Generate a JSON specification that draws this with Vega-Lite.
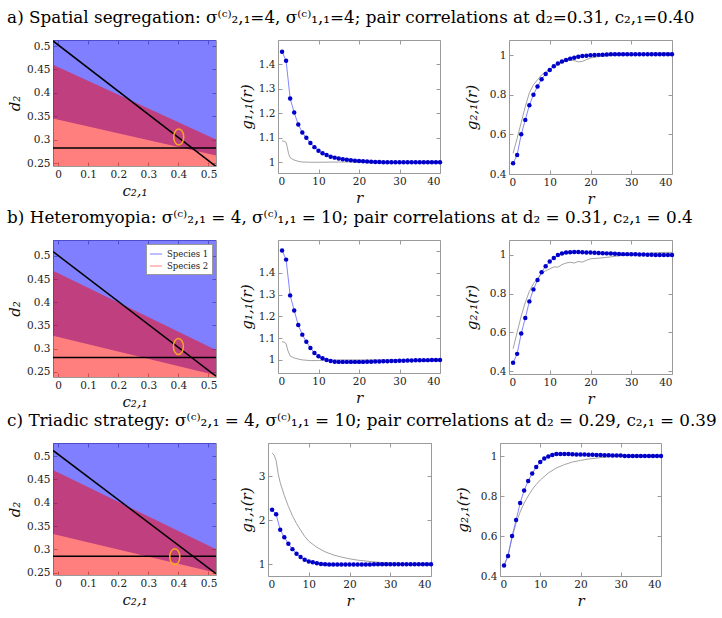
{
 "$schema": "https://vega.github.io/schema/vega-lite/v6.json",
 "padding": {"left": 7, "top": 10, "right": 5, "bottom": 2},
 "background": "white",
 "config": {
  "view": {"stroke": "#9a9a9a", "strokeWidth": 1},
  "axis": {"domain": false, "grid": false, "ticks": true, "tickSize": -4, "tickColor": "#9a9a9a", "labelFont": "DejaVu Serif", "labelFontSize": 10.5, "labelColor": "#222", "labelPadding": 7, "titleFont": "DejaVu Serif", "titleFontStyle": "italic", "titleFontWeight": "normal", "titleFontSize": 15, "titleColor": "#111", "titlePadding": 4},
  "title": {"font": "DejaVu Serif", "fontSize": 16.8, "fontWeight": "normal", "anchor": "start", "color": "#000", "offset": 12}
 },
 "datasets": {
  "regA": [{"c": -0.017, "lo": 0.345, "hi": 0.46, "diag": 0.511}, {"c": 0.525, "lo": 0.266, "hi": 0.30, "diag": 0.2426}],
  "regB": [{"c": -0.017, "lo": 0.328, "hi": 0.468, "diag": 0.509}, {"c": 0.525, "lo": 0.243, "hi": 0.297, "diag": 0.241}],
  "regC": [{"c": -0.017, "lo": 0.333, "hi": 0.47, "diag": 0.512}, {"c": 0.525, "lo": 0.25, "hi": 0.30, "diag": 0.248}],
  "markA": [{"c": 0.401, "d": 0.3056, "h": 0.282}],
  "markB": [{"c": 0.40, "d": 0.3046, "h": 0.281}],
  "markC": [{"c": 0.388, "d": 0.284, "h": 0.285}],
  "g11a": [{"r":1,"g":1.452},{"r":2,"g":1.415},{"r":3,"g":1.26},{"r":4,"g":1.203},{"r":5,"g":1.154},{"r":6,"g":1.121},{"r":7,"g":1.099},{"r":8,"g":1.078},{"r":9,"g":1.061},{"r":10,"g":1.046},{"r":11,"g":1.036},{"r":12,"g":1.029},{"r":13,"g":1.022},{"r":14,"g":1.018},{"r":15,"g":1.014},{"r":16,"g":1.011},{"r":17,"g":1.009},{"r":18,"g":1.007},{"r":19,"g":1.005},{"r":20,"g":1.004},{"r":21,"g":1.003},{"r":22,"g":1.002},{"r":23,"g":1.001},{"r":24,"g":1.0},{"r":25,"g":1.0},{"r":26,"g":0.999},{"r":27,"g":0.999},{"r":28,"g":0.999},{"r":29,"g":0.999},{"r":30,"g":0.999},{"r":31,"g":0.999},{"r":32,"g":0.999},{"r":33,"g":0.999},{"r":34,"g":0.999},{"r":35,"g":0.999},{"r":36,"g":0.999},{"r":37,"g":0.999},{"r":38,"g":0.999},{"r":39,"g":0.999},{"r":40,"g":0.999}],
  "g11a_s": [{"r":1,"g":1.087},{"r":1.5,"g":1.085},{"r":2,"g":1.08},{"r":2.3,"g":1.06},{"r":2.6,"g":1.035},{"r":3,"g":1.018},{"r":3.5,"g":1.012},{"r":4,"g":1.008},{"r":5,"g":1.003},{"r":6,"g":1.0},{"r":8,"g":0.999},{"r":10,"g":0.999},{"r":15,"g":1.0},{"r":20,"g":1.0},{"r":25,"g":1.0},{"r":30,"g":1.0},{"r":35,"g":1.0},{"r":40,"g":1.0}],
  "g21a": [{"r":1,"g":0.454},{"r":2,"g":0.496},{"r":3,"g":0.60},{"r":4,"g":0.673},{"r":5,"g":0.747},{"r":6,"g":0.80},{"r":7,"g":0.841},{"r":8,"g":0.878},{"r":9,"g":0.905},{"r":10,"g":0.925},{"r":11,"g":0.944},{"r":12,"g":0.957},{"r":13,"g":0.967},{"r":14,"g":0.975},{"r":15,"g":0.982},{"r":16,"g":0.987},{"r":17,"g":0.992},{"r":18,"g":0.995},{"r":19,"g":0.997},{"r":20,"g":0.999},{"r":21,"g":1.0},{"r":22,"g":1.001},{"r":23,"g":1.002},{"r":24,"g":1.003},{"r":25,"g":1.004},{"r":26,"g":1.004},{"r":27,"g":1.004},{"r":28,"g":1.004},{"r":29,"g":1.004},{"r":30,"g":1.004},{"r":31,"g":1.004},{"r":32,"g":1.004},{"r":33,"g":1.004},{"r":34,"g":1.004},{"r":35,"g":1.004},{"r":36,"g":1.004},{"r":37,"g":1.004},{"r":38,"g":1.004},{"r":39,"g":1.004},{"r":40,"g":1.004}],
  "g21a_s": [{"r":1,"g":0.504},{"r":2,"g":0.58},{"r":3,"g":0.66},{"r":4,"g":0.74},{"r":5,"g":0.81},{"r":6,"g":0.85},{"r":7,"g":0.875},{"r":8,"g":0.9},{"r":9,"g":0.915},{"r":10,"g":0.93},{"r":11,"g":0.942},{"r":12,"g":0.953},{"r":13,"g":0.962},{"r":14,"g":0.97},{"r":15,"g":0.975},{"r":16,"g":0.972},{"r":17,"g":0.966},{"r":18,"g":0.968},{"r":19,"g":0.977},{"r":20,"g":0.985},{"r":22,"g":0.992},{"r":25,"g":0.998},{"r":28,"g":1.0},{"r":30,"g":1.002},{"r":33,"g":1.005},{"r":35,"g":1.01},{"r":38,"g":1.01},{"r":40,"g":1.01}],
  "g11b": [{"r":1,"g":1.502},{"r":2,"g":1.46},{"r":3,"g":1.296},{"r":4,"g":1.227},{"r":5,"g":1.16},{"r":6,"g":1.116},{"r":7,"g":1.083},{"r":8,"g":1.055},{"r":9,"g":1.032},{"r":10,"g":1.017},{"r":11,"g":1.008},{"r":12,"g":1.0},{"r":13,"g":0.995},{"r":14,"g":0.992},{"r":15,"g":0.991},{"r":16,"g":0.991},{"r":17,"g":0.991},{"r":18,"g":0.991},{"r":19,"g":0.991},{"r":20,"g":0.991},{"r":21,"g":0.991},{"r":22,"g":0.992},{"r":23,"g":0.992},{"r":24,"g":0.993},{"r":25,"g":0.993},{"r":26,"g":0.994},{"r":27,"g":0.994},{"r":28,"g":0.995},{"r":29,"g":0.995},{"r":30,"g":0.996},{"r":31,"g":0.996},{"r":32,"g":0.997},{"r":33,"g":0.997},{"r":34,"g":0.998},{"r":35,"g":0.998},{"r":36,"g":0.999},{"r":37,"g":0.999},{"r":38,"g":1.0},{"r":39,"g":1.0},{"r":40,"g":1.0}],
  "g11b_s": [{"r":1,"g":1.083},{"r":1.5,"g":1.082},{"r":2,"g":1.075},{"r":2.4,"g":1.045},{"r":3,"g":1.018},{"r":4,"g":1.009},{"r":5,"g":1.004},{"r":6,"g":1.0},{"r":8,"g":0.997},{"r":10,"g":0.997},{"r":12,"g":0.998},{"r":15,"g":1.0},{"r":20,"g":1.0},{"r":30,"g":1.0},{"r":40,"g":1.0}],
  "g21b": [{"r":1,"g":0.443},{"r":2,"g":0.489},{"r":3,"g":0.594},{"r":4,"g":0.674},{"r":5,"g":0.76},{"r":6,"g":0.822},{"r":7,"g":0.87},{"r":8,"g":0.911},{"r":9,"g":0.942},{"r":10,"g":0.966},{"r":11,"g":0.984},{"r":12,"g":1.0},{"r":13,"g":1.007},{"r":14,"g":1.012},{"r":15,"g":1.014},{"r":16,"g":1.015},{"r":17,"g":1.015},{"r":18,"g":1.014},{"r":19,"g":1.013},{"r":20,"g":1.012},{"r":21,"g":1.011},{"r":22,"g":1.01},{"r":23,"g":1.009},{"r":24,"g":1.008},{"r":25,"g":1.007},{"r":26,"g":1.006},{"r":27,"g":1.005},{"r":28,"g":1.004},{"r":29,"g":1.004},{"r":30,"g":1.003},{"r":31,"g":1.003},{"r":32,"g":1.002},{"r":33,"g":1.002},{"r":34,"g":1.001},{"r":35,"g":1.001},{"r":36,"g":1.0},{"r":37,"g":1.0},{"r":38,"g":1.0},{"r":39,"g":1.0},{"r":40,"g":1.0}],
  "g21b_s": [{"r":1,"g":0.515},{"r":2,"g":0.60},{"r":3,"g":0.685},{"r":4,"g":0.755},{"r":5,"g":0.812},{"r":6,"g":0.852},{"r":7,"g":0.878},{"r":8,"g":0.905},{"r":9,"g":0.918},{"r":10,"g":0.928},{"r":11,"g":0.938},{"r":12,"g":0.937},{"r":13,"g":0.95},{"r":14,"g":0.958},{"r":15,"g":0.962},{"r":16,"g":0.958},{"r":17,"g":0.966},{"r":18,"g":0.963},{"r":19,"g":0.972},{"r":20,"g":0.98},{"r":22,"g":0.983},{"r":25,"g":0.99},{"r":28,"g":0.998},{"r":30,"g":1.005},{"r":33,"g":1.006},{"r":35,"g":1.01},{"r":38,"g":1.013},{"r":40,"g":1.013}],
  "g11c": [{"r":1,"g":2.234},{"r":2,"g":2.13},{"r":3,"g":1.78},{"r":4,"g":1.61},{"r":5,"g":1.46},{"r":6,"g":1.34},{"r":7,"g":1.235},{"r":8,"g":1.16},{"r":9,"g":1.1},{"r":10,"g":1.06},{"r":11,"g":1.04},{"r":12,"g":1.02},{"r":13,"g":1.005},{"r":14,"g":0.995},{"r":15,"g":0.99},{"r":16,"g":0.99},{"r":17,"g":0.99},{"r":18,"g":0.99},{"r":19,"g":0.99},{"r":20,"g":0.99},{"r":21,"g":0.99},{"r":22,"g":0.99},{"r":23,"g":0.99},{"r":24,"g":0.99},{"r":25,"g":0.99},{"r":26,"g":0.995},{"r":27,"g":0.995},{"r":28,"g":0.995},{"r":29,"g":0.995},{"r":30,"g":0.995},{"r":31,"g":0.995},{"r":32,"g":0.995},{"r":33,"g":0.995},{"r":34,"g":0.995},{"r":35,"g":0.995},{"r":36,"g":0.995},{"r":37,"g":0.995},{"r":38,"g":0.995},{"r":39,"g":0.995},{"r":40,"g":0.995}],
  "g11c_s": [{"r":1,"g":3.52},{"r":1.5,"g":3.48},{"r":2,"g":3.35},{"r":2.5,"g":3.05},{"r":3,"g":2.85},{"r":4,"g":2.56},{"r":5,"g":2.31},{"r":6,"g":2.1},{"r":7,"g":1.92},{"r":8,"g":1.77},{"r":9,"g":1.63},{"r":10,"g":1.52},{"r":12,"g":1.38},{"r":14,"g":1.28},{"r":16,"g":1.21},{"r":18,"g":1.16},{"r":20,"g":1.12},{"r":22,"g":1.09},{"r":25,"g":1.06},{"r":28,"g":1.035},{"r":30,"g":1.025},{"r":33,"g":1.012},{"r":35,"g":1.005},{"r":38,"g":1.0},{"r":40,"g":1.0}],
  "g21c": [{"r":1,"g":0.453},{"r":2,"g":0.50},{"r":3,"g":0.60},{"r":4,"g":0.68},{"r":5,"g":0.765},{"r":6,"g":0.828},{"r":7,"g":0.875},{"r":8,"g":0.913},{"r":9,"g":0.945},{"r":10,"g":0.97},{"r":11,"g":0.988},{"r":12,"g":0.998},{"r":13,"g":1.005},{"r":14,"g":1.01},{"r":15,"g":1.01},{"r":16,"g":1.01},{"r":17,"g":1.01},{"r":18,"g":1.009},{"r":19,"g":1.008},{"r":20,"g":1.008},{"r":21,"g":1.007},{"r":22,"g":1.006},{"r":23,"g":1.006},{"r":24,"g":1.005},{"r":25,"g":1.005},{"r":26,"g":1.004},{"r":27,"g":1.004},{"r":28,"g":1.003},{"r":29,"g":1.003},{"r":30,"g":1.002},{"r":31,"g":1.0},{"r":32,"g":1.0},{"r":33,"g":1.0},{"r":34,"g":1.0},{"r":35,"g":1.0},{"r":36,"g":1.0},{"r":37,"g":1.0},{"r":38,"g":1.0},{"r":39,"g":1.0},{"r":40,"g":1.0}],
  "g21c_s": [{"r":1,"g":0.45},{"r":2,"g":0.505},{"r":3,"g":0.59},{"r":4,"g":0.665},{"r":5,"g":0.72},{"r":6,"g":0.765},{"r":7,"g":0.80},{"r":8,"g":0.832},{"r":9,"g":0.858},{"r":10,"g":0.88},{"r":12,"g":0.915},{"r":14,"g":0.94},{"r":16,"g":0.957},{"r":18,"g":0.97},{"r":20,"g":0.978},{"r":22,"g":0.985},{"r":25,"g":0.992},{"r":28,"g":0.997},{"r":30,"g":1.0},{"r":35,"g":1.0},{"r":40,"g":1.0}]
 },
 "spacing": 3,
 "resolve": {"scale": {"color": "independent"}, "legend": {"color": "independent"}},
 "vconcat": [
  {
   "title": {"text": "a) Spatial segregation: σ⁽ᶜ⁾₂,₁=4, σ⁽ᶜ⁾₁,₁=4; pair correlations at d₂=0.31, c₂,₁=0.40"},
   "spacing": 20,
   "hconcat": [
    {
     "width": 163, "height": 126, "data": {"name": "regA"},
     "layer": [
      {"mark": {"type": "area", "fill": "#0000ff", "fillOpacity": 0.5, "clip": true},
       "encoding": {"x": {"field": "c", "type": "quantitative", "scale": {"domain": [-0.017, 0.525], "nice": false, "zero": false}, "axis": {"values": [0, 0.1, 0.2, 0.3, 0.4, 0.5], "format": "~g", "title": "c₂,₁"}},
        "y": {"field": "lo", "type": "quantitative", "scale": {"domain": [0.2436, 0.513], "nice": false, "zero": false}, "axis": {"values": [0.25, 0.3, 0.35, 0.4, 0.45, 0.5], "format": "~g", "title": "d₂"}},
        "y2": {"datum": 0.6}}},
      {"mark": {"type": "area", "fill": "#ff0000", "fillOpacity": 0.5, "clip": true},
       "encoding": {"x": {"field": "c", "type": "quantitative", "axis": {"orient": "top", "values": [0, 0.1, 0.2, 0.3, 0.4, 0.5], "labels": false, "title": null}},
        "y": {"field": "hi", "type": "quantitative", "axis": {"orient": "right", "values": [0.25, 0.3, 0.35, 0.4, 0.45, 0.5], "labels": false, "title": null}},
        "y2": {"datum": 0.1}}},
      {"mark": {"type": "line", "color": "#000", "strokeWidth": 1.5, "clip": true},
       "encoding": {"x": {"field": "c", "type": "quantitative", "axis": null}, "y": {"field": "diag", "type": "quantitative", "axis": null}}},
      {"data": {"name": "markA"}, "mark": {"type": "rule", "color": "#000", "strokeWidth": 1.5},
       "encoding": {"y": {"field": "h", "type": "quantitative", "axis": null}}},
      {"data": {"name": "markA"}, "mark": {"type": "point", "shape": "M0,-1A0.625,1,0,1,1,0,1A0.625,1,0,1,1,0,-1Z", "size": 256, "filled": false, "stroke": "#f5a623", "strokeWidth": 1.5, "opacity": 1},
       "encoding": {"x": {"field": "c", "type": "quantitative", "axis": null}, "y": {"field": "d", "type": "quantitative", "axis": null}}}
     ],
     "resolve": {"axis": {"x": "independent", "y": "independent"}}
    },
    {
     "width": 162, "height": 133,
     "layer": [
      {"data": {"name": "g11a_s"}, "mark": {"type": "line", "color": "#8a8a8a", "strokeWidth": 0.8, "clip": true},
       "encoding": {"x": {"field": "r", "type": "quantitative", "scale": {"domain": [0, 40], "nice": false}, "axis": {"values": [0, 10, 20, 30, 40], "title": "r"}},
        "y": {"field": "g", "type": "quantitative", "scale": {"domain": [0.955, 1.5], "nice": false, "zero": false}, "axis": {"values": [1, 1.1, 1.2, 1.3, 1.4], "format": "~g", "title": "g₁,₁(r)"}}}},
      {"data": {"name": "g11a"}, "mark": {"type": "line", "color": "#6464ff", "strokeWidth": 0.8, "clip": true},
       "encoding": {"x": {"field": "r", "type": "quantitative", "axis": {"orient": "top", "values": [0, 10, 20, 30, 40], "labels": false, "title": null}},
        "y": {"field": "g", "type": "quantitative", "axis": {"orient": "right", "values": [1, 1.1, 1.2, 1.3, 1.4], "labels": false, "title": null}}}},
      {"data": {"name": "g11a"}, "mark": {"type": "circle", "color": "#0000c8", "size": 20, "opacity": 1},
       "encoding": {"x": {"field": "r", "type": "quantitative", "axis": null}, "y": {"field": "g", "type": "quantitative", "axis": null}}}
     ],
     "resolve": {"axis": {"x": "independent", "y": "independent"}}
    },
    {
     "width": 163, "height": 134,
     "layer": [
      {"data": {"name": "g21a_s"}, "mark": {"type": "line", "color": "#8a8a8a", "strokeWidth": 0.8, "clip": true},
       "encoding": {"x": {"field": "r", "type": "quantitative", "scale": {"domain": [0, 40], "nice": false}, "axis": {"values": [0, 10, 20, 30, 40], "title": "r"}},
        "y": {"field": "g", "type": "quantitative", "scale": {"domain": [0.4, 1.076], "nice": false, "zero": false}, "axis": {"values": [0.4, 0.6, 0.8, 1], "format": "~g", "title": "g₂,₁(r)", "titlePadding": 10}}}},
      {"data": {"name": "g21a"}, "mark": {"type": "line", "color": "#6464ff", "strokeWidth": 0.8, "clip": true},
       "encoding": {"x": {"field": "r", "type": "quantitative", "axis": {"orient": "top", "values": [0, 10, 20, 30, 40], "labels": false, "title": null}},
        "y": {"field": "g", "type": "quantitative", "axis": {"orient": "right", "values": [0.4, 0.6, 0.8, 1], "labels": false, "title": null}}}},
      {"data": {"name": "g21a"}, "mark": {"type": "circle", "color": "#0000c8", "size": 20, "opacity": 1},
       "encoding": {"x": {"field": "r", "type": "quantitative", "axis": null}, "y": {"field": "g", "type": "quantitative", "axis": null}}}
     ],
     "resolve": {"axis": {"x": "independent", "y": "independent"}}
    }
   ]
  },
  {
   "title": {"text": "b) Heteromyopia: σ⁽ᶜ⁾₂,₁ = 4, σ⁽ᶜ⁾₁,₁ = 10; pair correlations at d₂ = 0.31, c₂,₁ = 0.4"},
   "spacing": 20,
   "resolve": {"scale": {"color": "independent"}, "legend": {"color": "independent"}},
   "hconcat": [
    {
     "width": 163, "height": 137, "data": {"name": "regB"},
     "layer": [
      {"mark": {"type": "area", "fillOpacity": 0.5, "clip": true},
       "encoding": {"x": {"field": "c", "type": "quantitative", "scale": {"domain": [-0.017, 0.525], "nice": false, "zero": false}, "axis": {"values": [0, 0.1, 0.2, 0.3, 0.4, 0.5], "format": "~g", "title": "c₂,₁"}},
        "y": {"field": "lo", "type": "quantitative", "scale": {"domain": [0.239, 0.534], "nice": false, "zero": false}, "axis": {"values": [0.25, 0.3, 0.35, 0.4, 0.45, 0.5], "format": "~g", "title": "d₂"}},
        "y2": {"datum": 0.6},
        "color": {"datum": "Species 1", "type": "nominal", "scale": {"domain": ["Species 1", "Species 2"], "range": ["#0000ff", "#ff0000"]},
         "legend": {"title": null, "orient": "top-right", "offset": 4, "symbolType": "stroke", "symbolSize": 150, "fillColor": "white", "strokeColor": "#9a9a9a", "padding": 3, "rowPadding": 0, "labelFont": "DejaVu Serif", "labelFontSize": 8.5, "labelColor": "#222",
          "encode": {"symbols": {"update": {"stroke": {"signal": "datum.value === 'Species 1' ? '#7f7fff' : '#ff8080'"}, "strokeWidth": {"value": 1}, "fillOpacity": {"value": 0}, "opacity": {"value": 1}}}}}}}},
      {"mark": {"type": "area", "fillOpacity": 0.5, "clip": true},
       "encoding": {"x": {"field": "c", "type": "quantitative", "axis": {"orient": "top", "values": [0, 0.1, 0.2, 0.3, 0.4, 0.5], "labels": false, "title": null}},
        "y": {"field": "hi", "type": "quantitative", "axis": {"orient": "right", "values": [0.25, 0.3, 0.35, 0.4, 0.45, 0.5], "labels": false, "title": null}},
        "y2": {"datum": 0.1},
        "color": {"datum": "Species 2", "type": "nominal"}}},
      {"mark": {"type": "line", "color": "#000", "strokeWidth": 1.5, "clip": true},
       "encoding": {"x": {"field": "c", "type": "quantitative", "axis": null}, "y": {"field": "diag", "type": "quantitative", "axis": null}}},
      {"data": {"name": "markB"}, "mark": {"type": "rule", "color": "#000", "strokeWidth": 1.5},
       "encoding": {"y": {"field": "h", "type": "quantitative", "axis": null}}},
      {"data": {"name": "markB"}, "mark": {"type": "point", "shape": "M0,-1A0.625,1,0,1,1,0,1A0.625,1,0,1,1,0,-1Z", "size": 256, "filled": false, "stroke": "#f5a623", "strokeWidth": 1.5, "opacity": 1},
       "encoding": {"x": {"field": "c", "type": "quantitative", "axis": null}, "y": {"field": "d", "type": "quantitative", "axis": null}}}
     ],
     "resolve": {"axis": {"x": "independent", "y": "independent"}}
    },
    {
     "width": 162, "height": 133,
     "layer": [
      {"data": {"name": "g11b_s"}, "mark": {"type": "line", "color": "#8a8a8a", "strokeWidth": 0.8, "clip": true},
       "encoding": {"x": {"field": "r", "type": "quantitative", "scale": {"domain": [0, 40], "nice": false}, "axis": {"values": [0, 10, 20, 30, 40], "title": "r"}},
        "y": {"field": "g", "type": "quantitative", "scale": {"domain": [0.94, 1.55], "nice": false, "zero": false}, "axis": {"values": [1, 1.1, 1.2, 1.3, 1.4], "format": "~g", "title": "g₁,₁(r)"}}}},
      {"data": {"name": "g11b"}, "mark": {"type": "line", "color": "#6464ff", "strokeWidth": 0.8, "clip": true},
       "encoding": {"x": {"field": "r", "type": "quantitative", "axis": {"orient": "top", "values": [0, 10, 20, 30, 40], "labels": false, "title": null}},
        "y": {"field": "g", "type": "quantitative", "axis": {"orient": "right", "values": [1, 1.1, 1.2, 1.3, 1.4, 1.5], "labels": false, "title": null}}}},
      {"data": {"name": "g11b"}, "mark": {"type": "circle", "color": "#0000c8", "size": 20, "opacity": 1},
       "encoding": {"x": {"field": "r", "type": "quantitative", "axis": null}, "y": {"field": "g", "type": "quantitative", "axis": null}}}
     ],
     "resolve": {"axis": {"x": "independent", "y": "independent"}}
    },
    {
     "width": 163, "height": 134,
     "layer": [
      {"data": {"name": "g21b_s"}, "mark": {"type": "line", "color": "#8a8a8a", "strokeWidth": 0.8, "clip": true},
       "encoding": {"x": {"field": "r", "type": "quantitative", "scale": {"domain": [0, 40], "nice": false}, "axis": {"values": [0, 10, 20, 30, 40], "title": "r"}},
        "y": {"field": "g", "type": "quantitative", "scale": {"domain": [0.385, 1.077], "nice": false, "zero": false}, "axis": {"values": [0.4, 0.6, 0.8, 1], "format": "~g", "title": "g₂,₁(r)", "titlePadding": 10}}}},
      {"data": {"name": "g21b"}, "mark": {"type": "line", "color": "#6464ff", "strokeWidth": 0.8, "clip": true},
       "encoding": {"x": {"field": "r", "type": "quantitative", "axis": {"orient": "top", "values": [0, 10, 20, 30, 40], "labels": false, "title": null}},
        "y": {"field": "g", "type": "quantitative", "axis": {"orient": "right", "values": [0.4, 0.6, 0.8, 1], "labels": false, "title": null}}}},
      {"data": {"name": "g21b"}, "mark": {"type": "circle", "color": "#0000c8", "size": 20, "opacity": 1},
       "encoding": {"x": {"field": "r", "type": "quantitative", "axis": null}, "y": {"field": "g", "type": "quantitative", "axis": null}}}
     ],
     "resolve": {"axis": {"x": "independent", "y": "independent"}}
    }
   ]
  },
  {
   "title": {"text": "c) Triadic strategy: σ⁽ᶜ⁾₂,₁ = 4, σ⁽ᶜ⁾₁,₁ = 10; pair correlations at d₂ = 0.29, c₂,₁ = 0.39"},
   "spacing": 20,
   "hconcat": [
    {
     "width": 163, "height": 132, "data": {"name": "regC"},
     "layer": [
      {"mark": {"type": "area", "fill": "#0000ff", "fillOpacity": 0.5, "clip": true},
       "encoding": {"x": {"field": "c", "type": "quantitative", "scale": {"domain": [-0.017, 0.525], "nice": false, "zero": false}, "axis": {"values": [0, 0.1, 0.2, 0.3, 0.4, 0.5], "format": "~g", "title": "c₂,₁"}},
        "y": {"field": "lo", "type": "quantitative", "scale": {"domain": [0.245, 0.528], "nice": false, "zero": false}, "axis": {"values": [0.25, 0.3, 0.35, 0.4, 0.45, 0.5], "format": "~g", "title": "d₂"}},
        "y2": {"datum": 0.6}}},
      {"mark": {"type": "area", "fill": "#ff0000", "fillOpacity": 0.5, "clip": true},
       "encoding": {"x": {"field": "c", "type": "quantitative", "axis": {"orient": "top", "values": [0, 0.1, 0.2, 0.3, 0.4, 0.5], "labels": false, "title": null}},
        "y": {"field": "hi", "type": "quantitative", "axis": {"orient": "right", "values": [0.25, 0.3, 0.35, 0.4, 0.45, 0.5], "labels": false, "title": null}},
        "y2": {"datum": 0.1}}},
      {"mark": {"type": "line", "color": "#000", "strokeWidth": 1.5, "clip": true},
       "encoding": {"x": {"field": "c", "type": "quantitative", "axis": null}, "y": {"field": "diag", "type": "quantitative", "axis": null}}},
      {"data": {"name": "markC"}, "mark": {"type": "rule", "color": "#000", "strokeWidth": 1.5},
       "encoding": {"y": {"field": "h", "type": "quantitative", "axis": null}}},
      {"data": {"name": "markC"}, "mark": {"type": "point", "shape": "M0,-1A0.625,1,0,1,1,0,1A0.625,1,0,1,1,0,-1Z", "size": 256, "filled": false, "stroke": "#f5a623", "strokeWidth": 1.5, "opacity": 1},
       "encoding": {"x": {"field": "c", "type": "quantitative", "axis": null}, "y": {"field": "d", "type": "quantitative", "axis": null}}}
     ],
     "resolve": {"axis": {"x": "independent", "y": "independent"}}
    },
    {
     "width": 163, "height": 133,
     "layer": [
      {"data": {"name": "g11c_s"}, "mark": {"type": "line", "color": "#8a8a8a", "strokeWidth": 0.8, "clip": true},
       "encoding": {"x": {"field": "r", "type": "quantitative", "scale": {"domain": [0, 40], "nice": false}, "axis": {"values": [0, 10, 20, 30, 40], "title": "r"}},
        "y": {"field": "g", "type": "quantitative", "scale": {"domain": [0.73, 3.75], "nice": false, "zero": false}, "axis": {"values": [1, 2, 3], "format": "~g", "title": "g₁,₁(r)"}}}},
      {"data": {"name": "g11c"}, "mark": {"type": "line", "color": "#6464ff", "strokeWidth": 0.8, "clip": true},
       "encoding": {"x": {"field": "r", "type": "quantitative", "axis": {"orient": "top", "values": [0, 10, 20, 30, 40], "labels": false, "title": null}},
        "y": {"field": "g", "type": "quantitative", "axis": {"orient": "right", "values": [1, 2, 3], "labels": false, "title": null}}}},
      {"data": {"name": "g11c"}, "mark": {"type": "circle", "color": "#0000c8", "size": 20, "opacity": 1},
       "encoding": {"x": {"field": "r", "type": "quantitative", "axis": null}, "y": {"field": "g", "type": "quantitative", "axis": null}}}
     ],
     "resolve": {"axis": {"x": "independent", "y": "independent"}}
    },
    {
     "width": 161, "height": 133,
     "layer": [
      {"data": {"name": "g21c_s"}, "mark": {"type": "line", "color": "#8a8a8a", "strokeWidth": 0.8, "clip": true},
       "encoding": {"x": {"field": "r", "type": "quantitative", "scale": {"domain": [0, 40], "nice": false}, "axis": {"values": [0, 10, 20, 30, 40], "title": "r"}},
        "y": {"field": "g", "type": "quantitative", "scale": {"domain": [0.4, 1.065], "nice": false, "zero": false}, "axis": {"values": [0.4, 0.6, 0.8, 1], "format": "~g", "title": "g₂,₁(r)", "titlePadding": 10}}}},
      {"data": {"name": "g21c"}, "mark": {"type": "line", "color": "#6464ff", "strokeWidth": 0.8, "clip": true},
       "encoding": {"x": {"field": "r", "type": "quantitative", "axis": {"orient": "top", "values": [0, 10, 20, 30, 40], "labels": false, "title": null}},
        "y": {"field": "g", "type": "quantitative", "axis": {"orient": "right", "values": [0.4, 0.6, 0.8, 1], "labels": false, "title": null}}}},
      {"data": {"name": "g21c"}, "mark": {"type": "circle", "color": "#0000c8", "size": 20, "opacity": 1},
       "encoding": {"x": {"field": "r", "type": "quantitative", "axis": null}, "y": {"field": "g", "type": "quantitative", "axis": null}}}
     ],
     "resolve": {"axis": {"x": "independent", "y": "independent"}}
    }
   ]
  }
 ]
}
